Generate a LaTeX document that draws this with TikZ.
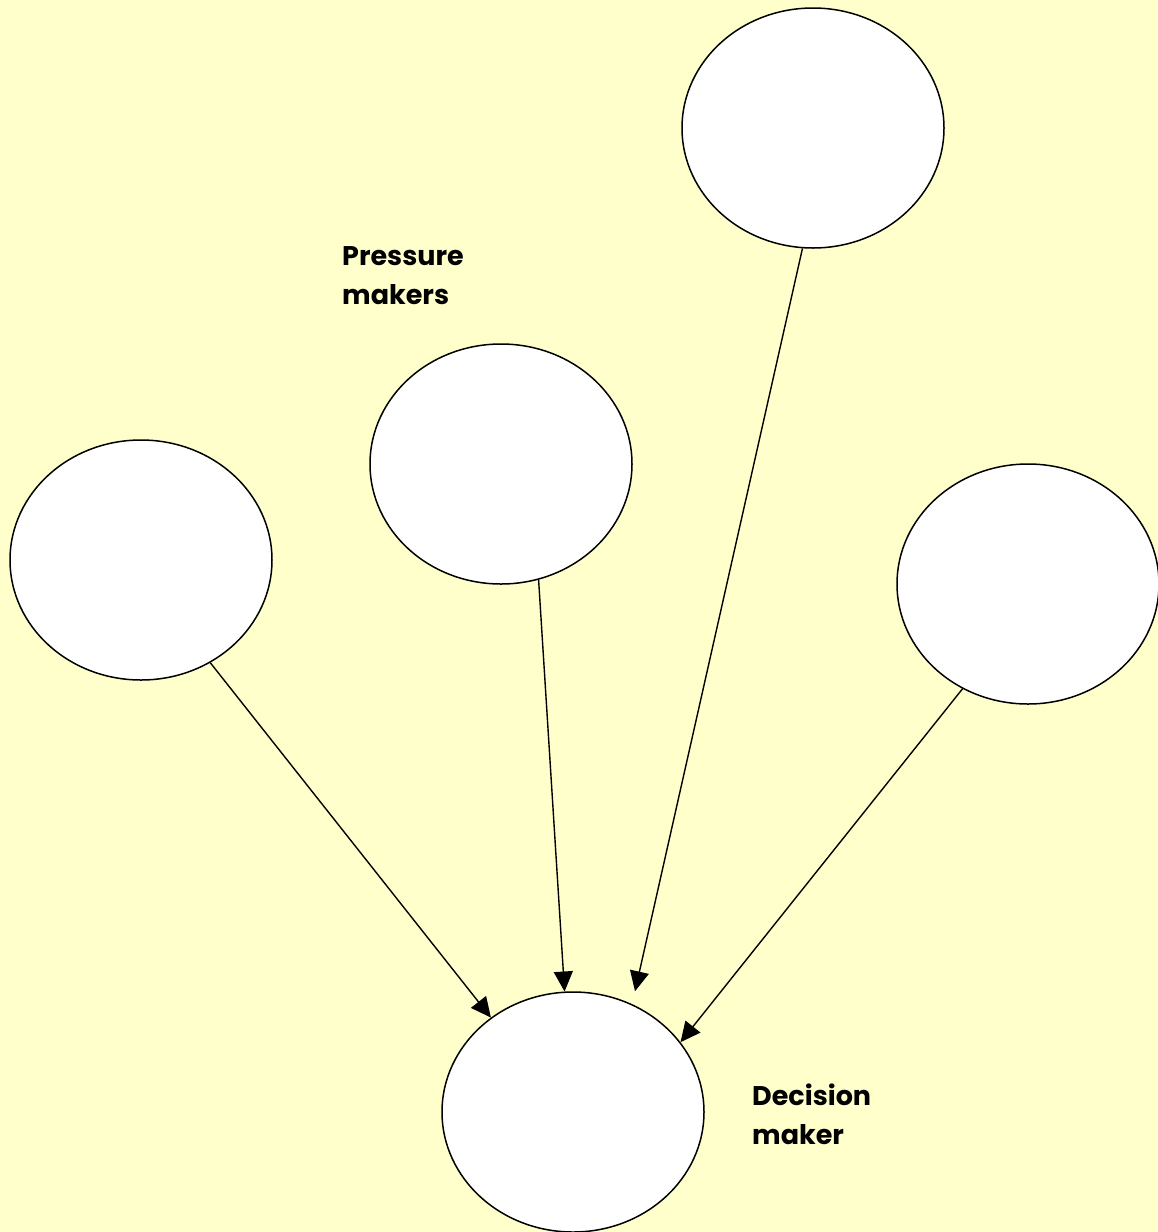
\documentclass[tikz,border=0pt]{standalone}
\usepackage{fontspec}
\setmainfont{Poppins}
\usetikzlibrary{arrows.meta,shapes.geometric}
\definecolor{bgyellow}{HTML}{FFFFCC}
\tikzset{
  bubble/.style={ellipse, draw=black, fill=white, line width=1.5pt, minimum width=262pt, minimum height=240pt, inner sep=0pt},
  push/.style={draw=black, line width=1.4pt, -{Triangle[length=20pt,width=19pt]}},
  lbl/.style={font=\fontsize{27}{39}\selectfont\bfseries, align=left, anchor=base west, inner sep=0pt}
}
\begin{document}
\begin{tikzpicture}[x=1pt,y=-1pt]
\fill[bgyellow] (0,0) rectangle (1158,1232);
\useasboundingbox (0,0) rectangle (1158,1232);
\node[bubble] (top) at (813,128) {};
\node[bubble] (mid) at (501,464) {};
\node[bubble] (left) at (141,560) {};
\node[bubble] (right) at (1028,584) {};
\node[bubble] (dm) at (573,1112) {};
\coordinate (t3) at ([xshift=62pt]dm.north);
\draw[push] (left.-56.8) -- (dm.131.1);
\draw[push] (mid.-72.4) -- (dm.94.8);
\draw[push] (top.-95.2) -- (t3);
\draw[push] (right.238.8) -- (dm.33.2);
\node[lbl] (pm) at (342,304) {Pressure\\makers};
\node[lbl] (dml) at (752,1144) {Decision\\maker};
\end{tikzpicture}
\end{document}
